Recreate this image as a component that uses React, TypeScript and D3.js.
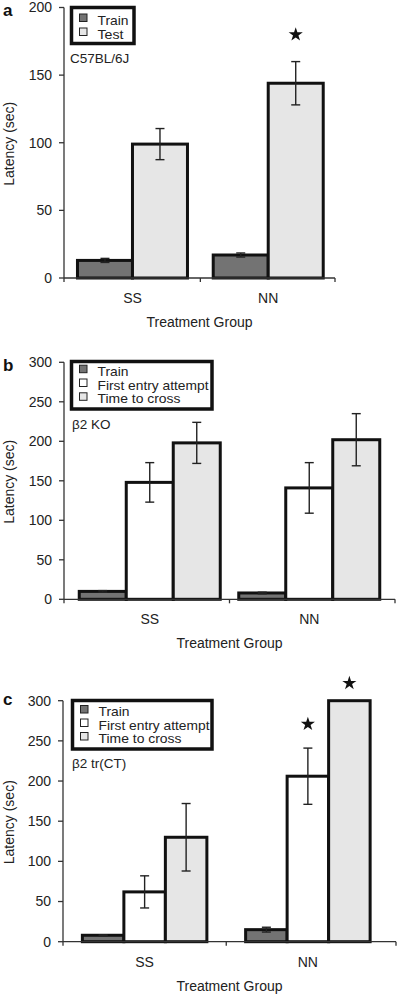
import React from "react";
import * as d3 from "d3";

const groups = ["SS", "NN"];
const seriesA = ["Train", "Test"];
const seriesBC = ["Train", "First entry attempt", "Time to cross"];

const aTrain = [13, 17];
const aTrainErr = [1.5, 1.5];
const aTest = [99, 144];
const aTestErr = [11.5, 16];

const bTrain = [10, 8];
const bTrainErr = [1, 1];
const bFirst = [148, 141];
const bFirstErr = [25, 32];
const bTime = [198, 202];
const bTimeErr = [26, 33];

const cTrain = [8, 15];
const cTrainErr = [0.5, 3];
const cFirst = [62, 206];
const cFirstErr = [20, 35];
const cTime = [130, 300];
const cTimeErr = [42, 0];

const ticksA = [0, 50, 100, 150, 200];
const ticksBC = [0, 50, 100, 150, 200, 250, 300];

// significance stars: [groupIndex, seriesIndex]
const starsA = [[1, 1]];
const starsB: number[][] = [];
const starsC = [[1, 1], [1, 2]];

const FONT = "'Liberation Sans', Arial, Helvetica, sans-serif";
const TRAIN_FILL = "#737373";
const LIGHT_FILL = "#e6e6e6";

// rendered widths of the legend entries (style)
const LEGEND_TEXT_W: Record<string, number> = {
  Train: 31,
  Test: 26,
  "First entry attempt": 111,
  "Time to cross": 83,
};

const panels = [
  {
    letter: "a", letterY: 16, strain: "C57BL/6J", strainPos: [70, 63],
    axis: [64, 335], band: [64.6, 336.1], yBase: 278, yTop: 7.5, yMax: 200, ticks: ticksA, barW: 55,
    series: seriesA, fills: [TRAIN_FILL, LIGHT_FILL],
    values: [aTrain, aTest], errors: [aTrainErr, aTestErr],
    stars: starsA, starDy: [27],
    legend: { x: 71.5, y: 7.5, w: 62.5, h: 36, base: 24.5, step: 14 },
  },
  {
    letter: "b", letterY: 371, strain: "\u03B22 KO", strainPos: [72, 429],
    axis: [64, 395], band: [70, 389], yBase: 599.3, yTop: 362.3, yMax: 300, ticks: ticksBC, barW: 47,
    series: seriesBC, fills: [TRAIN_FILL, "#ffffff", LIGHT_FILL],
    values: [bTrain, bFirst, bTime], errors: [bTrainErr, bFirstErr, bTimeErr],
    stars: starsB, starDy: [],
    legend: { x: 71.5, y: 361.5, w: 140.5, h: 47.5, base: 375.7, step: 13.8 },
  },
  {
    letter: "c", letterY: 705, strain: "\u03B22 tr(CT)", strainPos: [72, 768],
    axis: [63, 396], band: [63, 389.5], yBase: 941.7, yTop: 700.7, yMax: 300, ticks: ticksBC, barW: 41.5,
    series: seriesBC, fills: [TRAIN_FILL, "#ffffff", LIGHT_FILL],
    values: [cTrain, cFirst, cTime], errors: [cTrainErr, cFirstErr, cTimeErr],
    stars: starsC, starDy: [24, 17.5],
    legend: { x: 72.5, y: 700.5, w: 139.5, h: 48.5, base: 716, step: 13.5 },
  },
];

function Panel({ cfg }: { cfg: any }) {
  const x = d3.scaleBand().domain(groups).range(cfg.band as [number, number]);
  const y = d3.scaleLinear().domain([0, cfg.yMax]).range([cfg.yBase, cfg.yTop]);
  const n = cfg.series.length;
  const pad = (x.bandwidth() - n * cfg.barW) / 2;
  const xs = d3.scaleBand().domain(cfg.series).range([pad, x.bandwidth() - pad]);
  const [ax0, ax1] = cfg.axis;
  const starPath = d3.symbol(d3.symbolStar, 62)() as string;
  const capHalf = 4.5;

  return (
    <g>
      <text x={3} y={cfg.letterY} fontFamily={FONT} fontWeight="bold" fontSize={17} fill="#111">
        {cfg.letter}
      </text>
      {/* y axis */}
      <line x1={ax0} x2={ax0} y1={cfg.yTop} y2={cfg.yBase} stroke="#333" strokeWidth={1.3} />
      {cfg.ticks.map((t: number) => (
        <g key={t}>
          <line x1={ax0 - 5} x2={ax0} y1={y(t)} y2={y(t)} stroke="#333" strokeWidth={1.3} />
          <text x={ax0 - 12} y={y(t)} dy="0.35em" textAnchor="end" fontFamily={FONT} fontSize={14} fill="#222">
            {t}
          </text>
        </g>
      ))}
      <text
        transform={`translate(14,${(cfg.yBase + cfg.yTop) / 2 + 1}) rotate(-90)`}
        textAnchor="middle" fontFamily={FONT} fontSize={14} fill="#222"
      >
        Latency (sec)
      </text>
      {/* bars */}
      {groups.map((g, gi) =>
        cfg.series.map((s: string, si: number) => {
          const v = cfg.values[si][gi];
          return (
            <rect
              key={g + s}
              x={(x(g) as number) + (xs(s) as number)}
              y={y(v)}
              width={xs.bandwidth()}
              height={cfg.yBase - y(v)}
              fill={cfg.fills[si]}
              stroke="#111"
              strokeWidth={3}
            />
          );
        })
      )}
      {/* error bars */}
      {groups.map((g, gi) =>
        cfg.series.map((s: string, si: number) => {
          const v = cfg.values[si][gi];
          const e = cfg.errors[si][gi];
          if (!e) return null;
          const cx = (x(g) as number) + (xs(s) as number) + xs.bandwidth() / 2;
          return (
            <g key={"e" + g + s} stroke="#222" strokeWidth={1.4}>
              <line x1={cx} x2={cx} y1={y(v - e)} y2={y(v + e)} />
              <line x1={cx - capHalf} x2={cx + capHalf} y1={y(v - e)} y2={y(v - e)} />
              <line x1={cx - capHalf} x2={cx + capHalf} y1={y(v + e)} y2={y(v + e)} />
            </g>
          );
        })
      )}
      {/* stars */}
      {cfg.stars.map((st: number[], i: number) => {
        const g = groups[st[0]];
        const s = cfg.series[st[1]];
        const v = cfg.values[st[1]][st[0]] + cfg.errors[st[1]][st[0]];
        const cx = (x(g) as number) + (xs(s) as number) + xs.bandwidth() / 2;
        return <path key={"s" + i} d={starPath} transform={`translate(${cx},${y(v) - cfg.starDy[i]})`} fill="#111" />;
      })}
      {/* x axis */}
      <line x1={ax0} x2={ax1} y1={cfg.yBase} y2={cfg.yBase} stroke="#333" strokeWidth={1.3} />
      {[ax0, x("NN") as number, ax1].map((tx, i) => (
        <line key={"xt" + i} x1={tx} x2={tx} y1={cfg.yBase} y2={cfg.yBase + 4} stroke="#333" strokeWidth={1.3} />
      ))}
      {groups.map((g) => (
        <text key={"l" + g} x={(x(g) as number) + x.bandwidth() / 2} y={cfg.yBase + 25}
          textAnchor="middle" fontFamily={FONT} fontSize={14} fill="#222">
          {g}
        </text>
      ))}
      <text x={(ax0 + ax1) / 2} y={cfg.yBase + 49} textAnchor="middle" fontFamily={FONT} fontSize={14} fill="#222">
        Treatment Group
      </text>
      {/* strain label */}
      <text x={cfg.strainPos[0]} y={cfg.strainPos[1]} fontFamily={FONT} fontSize={13.5} fill="#222">
        {cfg.strain}
      </text>
      {/* legend */}
      <rect x={cfg.legend.x} y={cfg.legend.y} width={cfg.legend.w} height={cfg.legend.h}
        fill="#fff" stroke="#111" strokeWidth={3.5} />
      {cfg.series.map((s: string, si: number) => {
        const by = cfg.legend.base + si * cfg.legend.step;
        return (
          <g key={"lg" + s}>
            <rect x={cfg.legend.x + 8} y={by - 10.5} width={7.5} height={7.5} fill={cfg.fills[si]} stroke="#222" strokeWidth={1} />
            <text x={cfg.legend.x + 26} y={by} fontFamily={FONT} fontSize={12.4} fill="#222"
              textLength={LEGEND_TEXT_W[s]} lengthAdjust="spacingAndGlyphs">
              {s}
            </text>
          </g>
        );
      })}
    </g>
  );
}

export default function App() {
  return (
    <svg width={400} height={994} style={{ position: "absolute", left: 0, top: 0, background: "#fff" }}>
      <rect width={400} height={994} fill="#fff" />
      {panels.map((p) => (
        <Panel key={p.letter} cfg={p} />
      ))}
    </svg>
  );
}
